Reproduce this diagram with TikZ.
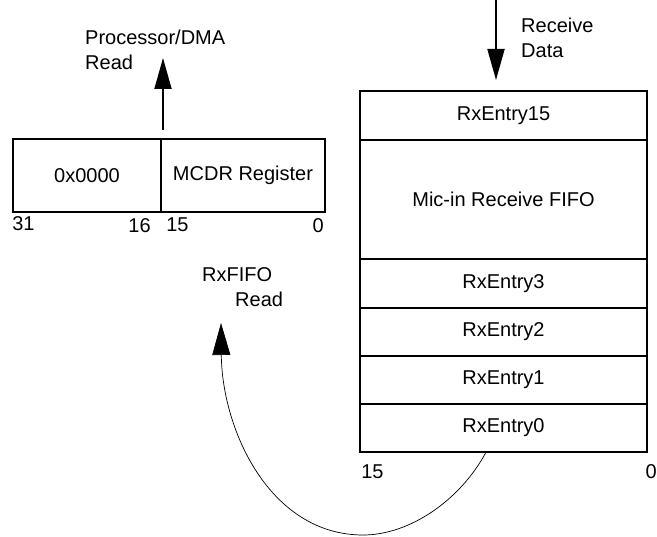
\documentclass[tikz,border=0pt]{standalone}
\usepackage{fontspec}
\setmainfont{Liberation Sans}
\usetikzlibrary{positioning,arrows.meta}

\begin{document}
\begin{tikzpicture}[x=1pt, y=-1pt,
    cell/.style={draw, line width=1.8pt, minimum width=287pt, minimum height=48.5pt, inner sep=0pt, font=\fontsize{20}{25}\selectfont},
    reg/.style={draw, line width=1.8pt, minimum height=73pt, inner sep=0pt, font=\fontsize{20}{25}\selectfont},
    bitno/.style={inner sep=0pt, font=\fontsize{20}{25}\selectfont},
    note/.style={align=left, inner sep=0pt, font=\fontsize{20}{25}\selectfont},
    flow/.style={-{Triangle[length=31pt, width=17pt]}, line width=1.8pt},
    popflow/.style={-{Triangle[length=32pt, width=18pt]}, line width=0.7pt},
]
  \useasboundingbox (0,0) rectangle (657,537);

  % MCDR register
  \node[reg, minimum width=148pt] (hi) at (87,175.5) {0x0000};
  \node[reg, minimum width=164pt] (lo) at (243,175.5) {MCDR Register};

  \node[bitno, anchor=north west] (b31) at ([yshift=-3pt]hi.south west) {31};
  \node[bitno, anchor=north east] (b16) at ([shift={(-11pt,-5pt)}]hi.south east) {16};
  \node[bitno, anchor=north west] (b15) at ([shift={(6pt,-5pt)}]lo.south west) {15};
  \node[bitno, anchor=north east] (b0) at ([shift={(-2pt,-5pt)}]lo.south east) {0};

  % receive FIFO
  \node[cell] (e15) at (503.5,115.5) {RxEntry15};
  \node[cell, minimum height=119pt] (fifo) at (503.5,199.5) {Mic-in Receive FIFO};
  \node[cell] (e3) at (503.5,283.5) {RxEntry3};
  \node[cell] (e2) at (503.5,332) {RxEntry2};
  \node[cell] (e1) at (503.5,380) {RxEntry1};
  \node[cell] (e0) at (503.5,428) {RxEntry0};

  \node[bitno, anchor=north west] (f15) at ([shift={(2pt,-11pt)}]e0.south west) {15};
  \node[bitno, anchor=north east] (f0) at ([shift={(9pt,-11pt)}]e0.south east) {0};

  % labels
  \node[note, anchor=north west] (pdma) at (85,30) {Processor/DMA\\Read};
  \node[note, anchor=north west] (rxdata) at (521,18) {Receive\\Data};
  \node[note, anchor=north west] (rxrd) at (202,267) {RxFIFO\\\hspace*{33pt}Read};

  % arrows
  \coordinate (rdfrom) at (163,130);
  \coordinate (rdto) at (163,58);
  \coordinate (rxfrom) at (496,0);
  \coordinate (rxto) at (496,80);
  \coordinate (pop) at (221,323);

  \draw[flow] (rdfrom) -- (rdto);
  \draw[flow] (rxfrom) -- (rxto);
  \draw[popflow] ([xshift=-18pt]e0.south) .. controls (460,500) and (410,535) .. (363,535)
      .. controls (270,535) and (222,430) .. (pop);
\end{tikzpicture}
\end{document}
